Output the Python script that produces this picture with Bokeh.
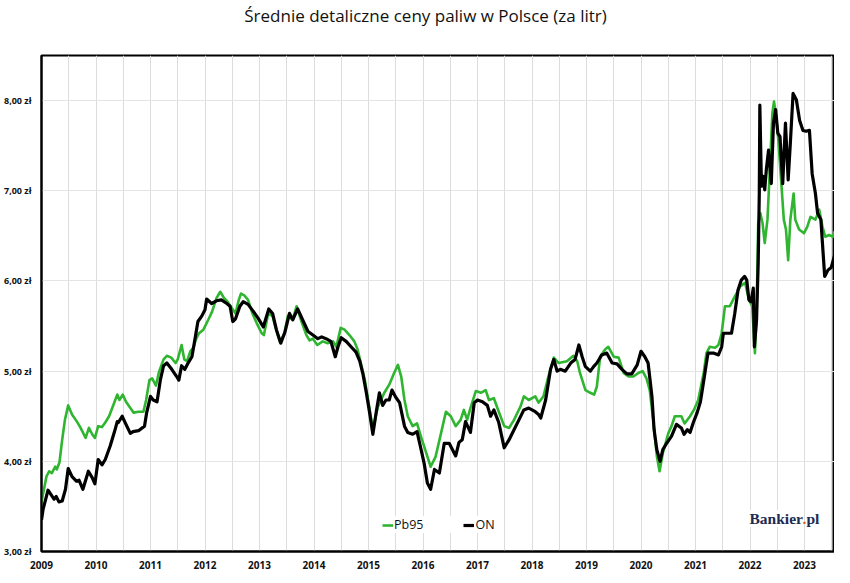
from bokeh.plotting import figure
from bokeh.layouts import column
from bokeh.models import (Range1d, FixedTicker, CustomJSTickFormatter, Legend, LegendItem,
                          Label)
from bokeh.embed import file_html
from bokeh.resources import INLINE

# ---------------- data ----------------
pb95_t = [2009.00, 2009.09, 2009.14, 2009.19, 2009.25, 2009.28, 2009.33, 2009.38, 2009.43, 2009.49,
          2009.56, 2009.65, 2009.71, 2009.81, 2009.87, 2009.93, 2009.98, 2010.04, 2010.11, 2010.17,
          2010.24, 2010.31, 2010.39, 2010.43, 2010.49, 2010.55, 2010.63, 2010.69, 2010.78, 2010.87,
          2010.92, 2010.98, 2011.03, 2011.10, 2011.16, 2011.24, 2011.30, 2011.38, 2011.46, 2011.50,
          2011.57, 2011.62, 2011.67, 2011.73, 2011.79, 2011.83, 2011.89, 2011.97, 2012.06, 2012.13,
          2012.21, 2012.28, 2012.35, 2012.40, 2012.49, 2012.56, 2012.62, 2012.66, 2012.72, 2012.79,
          2012.87, 2012.95, 2013.04, 2013.08, 2013.16, 2013.24, 2013.29, 2013.37, 2013.45, 2013.52,
          2013.61, 2013.68, 2013.77, 2013.86, 2013.92, 2013.98, 2014.06, 2014.16, 2014.25, 2014.35,
          2014.41, 2014.49, 2014.56, 2014.65, 2014.74, 2014.80, 2014.93, 2015.02, 2015.08, 2015.17,
          2015.29, 2015.38, 2015.47, 2015.54, 2015.60, 2015.66, 2015.72, 2015.81, 2015.89, 2015.96,
          2016.05, 2016.14, 2016.23, 2016.33, 2016.42, 2016.51, 2016.60, 2016.69, 2016.75, 2016.81,
          2016.87, 2016.97, 2017.06, 2017.15, 2017.21, 2017.30, 2017.39, 2017.49, 2017.58, 2017.67,
          2017.79, 2017.85, 2017.94, 2018.06, 2018.12, 2018.21, 2018.30, 2018.40, 2018.49, 2018.64,
          2018.76, 2018.83, 2018.88, 2018.98, 2019.07, 2019.14, 2019.19, 2019.25, 2019.34, 2019.40,
          2019.50, 2019.59, 2019.68, 2019.77, 2019.86, 2019.95, 2020.03, 2020.10, 2020.16, 2020.23,
          2020.29, 2020.34, 2020.40, 2020.50, 2020.56, 2020.62, 2020.74, 2020.80, 2020.90, 2020.97,
          2021.05, 2021.15, 2021.20, 2021.26, 2021.36, 2021.42, 2021.48, 2021.54, 2021.63, 2021.69,
          2021.76, 2021.82, 2021.91, 2021.98, 2022.04, 2022.09, 2022.12, 2022.15, 2022.19, 2022.23,
          2022.27, 2022.32, 2022.36, 2022.41, 2022.44, 2022.48, 2022.52, 2022.57, 2022.62, 2022.66,
          2022.70, 2022.74, 2022.80, 2022.83, 2022.90, 2022.99, 2023.05, 2023.11, 2023.20, 2023.27,
          2023.33, 2023.38, 2023.45, 2023.52, 2023.55]
pb95_v = [3.55, 3.83, 3.89, 3.87, 3.94, 3.91, 3.99, 4.24, 4.46, 4.62,
          4.52, 4.44, 4.38, 4.26, 4.37, 4.30, 4.26, 4.39, 4.38, 4.43,
          4.50, 4.61, 4.74, 4.68, 4.74, 4.66, 4.59, 4.54, 4.55, 4.55,
          4.68, 4.90, 4.92, 4.84, 5.00, 5.13, 5.17, 5.15, 5.09, 5.13,
          5.29, 5.13, 5.11, 5.22, 5.26, 5.35, 5.42, 5.46, 5.57, 5.66,
          5.81, 5.88, 5.81, 5.78, 5.70, 5.64, 5.79, 5.86, 5.84, 5.79,
          5.64, 5.53, 5.42, 5.40, 5.64, 5.61, 5.49, 5.33, 5.40, 5.61,
          5.57, 5.72, 5.55, 5.40, 5.34, 5.36, 5.29, 5.33, 5.31, 5.33,
          5.27, 5.48, 5.46, 5.40, 5.33, 5.24, 4.91, 4.58, 4.35, 4.60,
          4.76, 4.85, 4.98, 5.07, 4.94, 4.68, 4.50, 4.39, 4.42, 4.28,
          4.11, 3.94, 4.05, 4.31, 4.55, 4.50, 4.39, 4.46, 4.57, 4.46,
          4.59, 4.78, 4.76, 4.79, 4.68, 4.70, 4.55, 4.39, 4.37, 4.46,
          4.61, 4.72, 4.68, 4.72, 4.65, 4.72, 4.94, 5.15, 5.09, 5.11,
          5.17, 5.11, 4.98, 4.79, 4.76, 4.74, 4.83, 5.16, 5.24, 5.27,
          5.16, 5.15, 4.98, 4.94, 4.94, 4.98, 5.00, 4.92, 4.79, 4.42,
          4.06, 3.89, 4.09, 4.31, 4.39, 4.50, 4.50, 4.42, 4.50, 4.57,
          4.68, 4.98, 5.20, 5.27, 5.26, 5.29, 5.42, 5.72, 5.72, 5.79,
          5.87, 5.94, 5.98, 5.79, 5.72, 5.20, 5.64, 6.64, 6.75, 6.64,
          6.42, 6.68, 7.19, 7.86, 7.99, 7.82, 7.56, 7.12, 6.68, 6.57,
          6.23, 6.68, 6.97, 6.68, 6.57, 6.53, 6.60, 6.71, 6.68, 6.79,
          6.60, 6.49, 6.51, 6.49, 6.55]

on_t = [2009.00, 2009.03, 2009.12, 2009.23, 2009.27, 2009.32, 2009.38, 2009.44, 2009.49, 2009.56,
        2009.64, 2009.69, 2009.76, 2009.86, 2009.93, 2009.98, 2010.04, 2010.11, 2010.17, 2010.26,
        2010.34, 2010.39, 2010.41, 2010.48, 2010.55, 2010.63, 2010.68, 2010.78, 2010.89, 2010.93,
        2011.00, 2011.05, 2011.12, 2011.18, 2011.24, 2011.30, 2011.39, 2011.48, 2011.52, 2011.57,
        2011.63, 2011.70, 2011.76, 2011.82, 2011.87, 2011.94, 2012.00, 2012.03, 2012.12, 2012.21,
        2012.30, 2012.40, 2012.46, 2012.51, 2012.56, 2012.64, 2012.70, 2012.79, 2012.89, 2012.97,
        2013.07, 2013.17, 2013.24, 2013.31, 2013.39, 2013.47, 2013.55, 2013.61, 2013.70, 2013.79,
        2013.89, 2013.98, 2014.07, 2014.14, 2014.22, 2014.31, 2014.39, 2014.44, 2014.50, 2014.59,
        2014.68, 2014.77, 2014.84, 2014.90, 2014.96, 2015.02, 2015.08, 2015.14, 2015.20, 2015.26,
        2015.32, 2015.38, 2015.43, 2015.50, 2015.57, 2015.66, 2015.72, 2015.81, 2015.89, 2015.95,
        2016.02, 2016.08, 2016.14, 2016.21, 2016.30, 2016.39, 2016.48, 2016.60, 2016.66, 2016.72,
        2016.78, 2016.87, 2016.94, 2017.00, 2017.09, 2017.18, 2017.24, 2017.30, 2017.39, 2017.49,
        2017.58, 2017.67, 2017.76, 2017.85, 2017.94, 2018.06, 2018.12, 2018.16, 2018.25, 2018.34,
        2018.40, 2018.46, 2018.52, 2018.61, 2018.71, 2018.79, 2018.86, 2018.92, 2018.98, 2019.07,
        2019.13, 2019.19, 2019.28, 2019.37, 2019.47, 2019.56, 2019.65, 2019.74, 2019.83, 2019.93,
        2020.00, 2020.07, 2020.13, 2020.20, 2020.24, 2020.29, 2020.35, 2020.40, 2020.47, 2020.56,
        2020.65, 2020.74, 2020.79, 2020.85, 2020.90, 2020.96, 2021.03, 2021.09, 2021.15, 2021.20,
        2021.23, 2021.33, 2021.42, 2021.48, 2021.51, 2021.60, 2021.66, 2021.72, 2021.78, 2021.84,
        2021.90, 2021.94, 2021.98, 2022.02, 2022.06, 2022.08, 2022.12, 2022.15, 2022.17, 2022.18,
        2022.21, 2022.24, 2022.27, 2022.30, 2022.34, 2022.39, 2022.43, 2022.47, 2022.51, 2022.55,
        2022.60, 2022.65, 2022.70, 2022.74, 2022.79, 2022.85, 2022.91, 2022.97, 2023.03, 2023.09,
        2023.14, 2023.20, 2023.24, 2023.30, 2023.37, 2023.43, 2023.49, 2023.55]
on_v = [3.35, 3.47, 3.68, 3.58, 3.61, 3.55, 3.56, 3.69, 3.92, 3.83,
        3.78, 3.79, 3.69, 3.89, 3.82, 3.75, 4.02, 3.96, 4.02, 4.17,
        4.33, 4.44, 4.43, 4.50, 4.41, 4.31, 4.33, 4.34, 4.39, 4.54,
        4.72, 4.68, 4.66, 4.90, 5.06, 5.09, 5.02, 4.94, 4.90, 5.06,
        5.02, 5.10, 5.16, 5.37, 5.55, 5.61, 5.68, 5.80, 5.75, 5.78,
        5.79, 5.75, 5.72, 5.55, 5.58, 5.72, 5.77, 5.74, 5.66, 5.59,
        5.49, 5.69, 5.64, 5.46, 5.31, 5.44, 5.64, 5.57, 5.69, 5.57,
        5.44, 5.40, 5.36, 5.38, 5.36, 5.33, 5.16, 5.27, 5.37, 5.33,
        5.27, 5.21, 5.11, 4.96, 4.76, 4.54, 4.30, 4.54, 4.76, 4.62,
        4.68, 4.68, 4.79, 4.71, 4.65, 4.39, 4.32, 4.30, 4.33, 4.17,
        3.98, 3.76, 3.69, 3.91, 3.87, 4.20, 4.20, 4.06, 4.21, 4.24,
        4.44, 4.32, 4.65, 4.68, 4.66, 4.62, 4.50, 4.57, 4.43, 4.15,
        4.24, 4.35, 4.46, 4.57, 4.59, 4.55, 4.52, 4.48, 4.68, 5.02,
        5.13, 5.00, 5.02, 5.00, 5.09, 5.13, 5.29, 5.16, 5.05, 5.00,
        5.05, 5.09, 5.18, 5.20, 5.09, 5.08, 5.02, 4.97, 4.97, 5.07,
        5.22, 5.16, 5.09, 4.72, 4.35, 4.13, 4.00, 4.13, 4.20, 4.28,
        4.41, 4.37, 4.30, 4.35, 4.32, 4.43, 4.54, 4.66, 4.89, 5.09,
        5.20, 5.20, 5.18, 5.27, 5.42, 5.42, 5.42, 5.64, 5.90, 6.01,
        6.05, 6.01, 5.79, 5.77, 5.92, 5.27, 5.57, 6.20, 6.97, 7.95,
        7.05, 7.16, 7.01, 7.24, 7.45, 7.08, 7.75, 7.90, 7.64, 7.60,
        7.08, 7.75, 7.12, 7.53, 8.08, 8.01, 7.78, 7.67, 7.66, 7.67,
        7.19, 6.97, 6.75, 6.68, 6.05, 6.12, 6.15, 6.28]

years = list(range(2009, 2024))
half_years = [y + 0.5 for y in range(2009, 2024)]
y_ticks = [3, 4, 5, 6, 7, 8]

title_text = "Średnie detaliczne ceny paliw w Polsce (za litr)"
series_names = ["Pb95", "ON"]
colors = ["#2fb52f", "#000000"]

FRAME_W, FRAME_H = 793, 496
TITLE_H = 30

# ---------------- title strip ----------------
t = figure(width=834, height=TITLE_H, output_backend="svg", toolbar_location=None,
           x_axis_type=None, y_axis_type=None, x_range=Range1d(0, 1), y_range=Range1d(0, 1),
           min_border_left=0, min_border_right=0, min_border_top=0, min_border_bottom=0)
t.outline_line_color = None
t.grid.visible = False
t.background_fill_color = "white"
t.border_fill_color = "white"
t.add_layout(Label(x=384, y=TITLE_H / 2, x_units="screen", y_units="screen", text=title_text,
                   text_font="Open Sans", text_font_size="17px", text_color="#111111",
                   text_align="center", text_baseline="middle"))

# ---------------- main chart ----------------
p = figure(frame_width=FRAME_W, frame_height=FRAME_H, output_backend="svg", toolbar_location=None,
           x_range=Range1d(2009, 2023.55), y_range=Range1d(3, 8.5),
           min_border_left=41, min_border_right=0, min_border_top=55 - TITLE_H, min_border_bottom=0)

p.outline_line_color = "black"
p.outline_line_width = 2
p.outline_line_alpha = 1
p.background_fill_color = "white"
p.border_fill_color = "white"

# axes
p.xaxis.ticker = FixedTicker(ticks=years, minor_ticks=half_years)
p.yaxis.ticker = FixedTicker(ticks=y_ticks)
p.yaxis.formatter = CustomJSTickFormatter(code="return tick.toFixed(2).replace('.', ',') + ' zł';")
for ax in (p.xaxis[0], p.yaxis[0]):
    ax.axis_line_color = "black"
    ax.axis_line_width = 2
    ax.major_tick_line_color = None
    ax.minor_tick_line_color = None
    ax.major_label_text_font = "Open Sans"
    ax.major_label_text_font_style = "bold"
    ax.major_label_text_color = "#111111"
p.xaxis.major_label_text_font_size = "10px"
p.yaxis.major_label_text_font_size = "9px"
p.xaxis.major_label_standoff = 3
p.yaxis.major_label_standoff = 4

# grids
p.xgrid.grid_line_color = "#dcdcdc"
p.xgrid.minor_grid_line_color = "#dcdcdc"
p.xgrid.grid_line_width = 1
p.ygrid.grid_line_color = "#e4e4e4"
p.ygrid.grid_line_width = 1

# lines
g = p.line(pb95_t, pb95_v, line_color=colors[0], line_width=2.6, line_join="round")
b = p.line(on_t, on_v, line_color=colors[1], line_width=3.2, line_join="round")

legend = Legend(items=[LegendItem(label=series_names[0], renderers=[g]),
                       LegendItem(label=series_names[1], renderers=[b])],
                location=(341, 18), orientation="horizontal",
                glyph_width=11, glyph_height=14, label_standoff=1, spacing=40,
                padding=2, margin=0,
                label_text_font="Open Sans", label_text_font_size="12.5px",
                label_text_color="#111111",
                border_line_color=None, background_fill_color="white",
                background_fill_alpha=1)
p.add_layout(legend, "center")

# Bankier.pl logo
logo_font = "Liberation Serif"
lb1 = Label(x=708, y=33, x_units="screen", y_units="screen", text="Bankier",
            text_font=logo_font, text_font_size="15.5px", text_font_style="bold",
            text_color="#1d2b52", text_baseline="alphabetic",
            background_fill_color="white", background_fill_alpha=1)
lb2 = Label(x=761, y=33, x_units="screen", y_units="screen", text=".",
            text_font=logo_font, text_font_size="15.5px", text_font_style="bold",
            text_color="#e8561c", text_baseline="alphabetic")
lb3 = Label(x=765, y=33, x_units="screen", y_units="screen", text="pl",
            text_font=logo_font, text_font_size="15.5px", text_font_style="bold",
            text_color="#1d2b52", text_baseline="alphabetic",
            background_fill_color="white", background_fill_alpha=1)
for l in (lb1, lb2, lb3):
    p.add_layout(l)

layout = column(t, p, spacing=0)
open("out.html", "w").write(file_html(layout, INLINE))
